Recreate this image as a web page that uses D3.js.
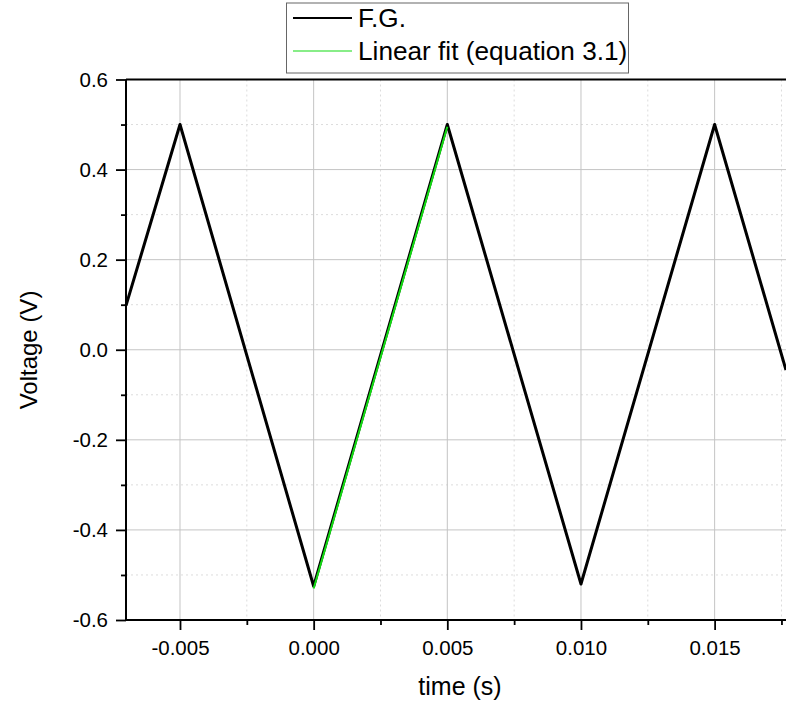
<!DOCTYPE html>
<html>
<head>
<meta charset="utf-8">
<script src="https://cdn.jsdelivr.net/npm/d3@7"></script>
<style>
  body { margin: 0; background: #fff; }
  svg { display: block; font-family: "Liberation Sans", Arial, sans-serif; }
</style>
</head>
<body>
<svg id="chart" width="786" height="703"></svg>
<script>
// waveform vertices (time in s, voltage in V)
const fgTime = [-0.00702, -0.005, 0.0, 0.005, 0.010, 0.015, 0.01767];
const fgVolt = [0.098, 0.50, -0.525, 0.50, -0.52, 0.50, -0.045];

// linear fit over the rising edge
const fitTime = [0.0, 0.005];
const fitVolt = [-0.53, 0.495];

const xTicks = [-0.005, 0.000, 0.005, 0.010, 0.015];
const xMinor = [-0.0025, 0.0025, 0.0075, 0.0125, 0.0175];
const yTicks = [-0.6, -0.4, -0.2, 0.0, 0.2, 0.4, 0.6];
const yMinor = [-0.5, -0.3, -0.1, 0.1, 0.3, 0.5];

const legendItems = [
  { label: 'F.G.', color: '#000' },
  { label: 'Linear fit (equation 3.1)', color: '#12dc12' }
];

const svg = d3.select('#chart');
const plotL = 126, plotR = 786, plotT = 79.5, plotB = 620;

const x = d3.scaleLinear().domain([-0.00702, 0.01767]).range([plotL, plotR]);
const y = d3.scaleLinear().domain([-0.6, 0.6]).range([plotB, plotT]);

// plain hyphen for negatives, like the original
const fmt = p => d => d3.format(p)(d).replace('\u2212', '-');

// grid lines
const grid = svg.append('g');
grid.selectAll('.vminor').data(xMinor).enter().append('line')
  .attr('x1', d => x(d)).attr('x2', d => x(d))
  .attr('y1', plotT).attr('y2', plotB)
  .attr('stroke', '#dcdcdc').attr('stroke-dasharray', '2,3');
grid.selectAll('.hminor').data(yMinor).enter().append('line')
  .attr('x1', plotL).attr('x2', plotR)
  .attr('y1', d => y(d)).attr('y2', d => y(d))
  .attr('stroke', '#dcdcdc').attr('stroke-dasharray', '2,3');
grid.selectAll('.vmajor').data(xTicks).enter().append('line')
  .attr('x1', d => x(d)).attr('x2', d => x(d))
  .attr('y1', plotT).attr('y2', plotB)
  .attr('stroke', '#c4c4c4');
grid.selectAll('.hmajor').data(yTicks.slice(1, -1)).enter().append('line')
  .attr('x1', plotL).attr('x2', plotR)
  .attr('y1', d => y(d)).attr('y2', d => y(d))
  .attr('stroke', '#c4c4c4');

// data lines
const line = d3.line().x(d => x(d[0])).y(d => y(d[1]));
const fgData = fgTime.map((t, i) => [t, fgVolt[i]]);
const fitData = fitTime.map((t, i) => [t, fitVolt[i]]);

svg.append('path').datum(fgData)
  .attr('d', line).attr('fill', 'none')
  .attr('stroke', '#000').attr('stroke-width', 3)
  .attr('stroke-linejoin', 'round');
svg.append('path').datum(fitData)
  .attr('d', line).attr('fill', 'none')
  .attr('stroke', legendItems[1].color).attr('stroke-width', 2);

// axes
svg.append('g').attr('transform', `translate(0,${plotB})`)
  .call(d3.axisBottom(x).tickValues(xTicks).tickFormat(fmt('.3f')).tickSize(10).tickPadding(10));
svg.append('g').attr('transform', `translate(0,${plotB})`)
  .call(d3.axisBottom(x).tickValues(xMinor).tickFormat('').tickSize(5));
svg.append('g').attr('transform', `translate(${plotL},0)`)
  .call(d3.axisLeft(y).tickValues(yTicks).tickFormat(fmt('.1f')).tickSize(10).tickPadding(8));
svg.append('g').attr('transform', `translate(${plotL},0)`)
  .call(d3.axisLeft(y).tickValues(yMinor).tickFormat('').tickSize(5));

svg.selectAll('.domain').remove();
svg.selectAll('.tick line').attr('stroke-width', 1.8);
svg.selectAll('.tick text').attr('font-size', 20.5).attr('fill', '#000')
  .attr('font-family', '"Liberation Sans", Arial, sans-serif');

// frame lines
svg.append('line').attr('x1', plotL).attr('x2', plotR).attr('y1', plotB).attr('y2', plotB)
  .attr('stroke', '#000').attr('stroke-width', 2);
svg.append('line').attr('x1', plotL).attr('x2', plotR).attr('y1', plotT).attr('y2', plotT)
  .attr('stroke', '#000').attr('stroke-width', 2);
svg.append('line').attr('x1', plotL).attr('x2', plotL).attr('y1', plotT).attr('y2', plotB)
  .attr('stroke', '#000').attr('stroke-width', 2);

// axis titles
svg.append('text').attr('x', 460).attr('y', 695)
  .attr('text-anchor', 'middle').attr('font-size', 25).text('time (s)');
svg.append('text').attr('transform', 'translate(37,350) rotate(-90)')
  .attr('text-anchor', 'middle').attr('font-size', 24).text('Voltage (V)');

// legend
const legend = svg.append('g');
legend.append('rect').attr('x', 286.5).attr('y', 3).attr('width', 342).attr('height', 70)
  .attr('fill', '#fff').attr('stroke', '#666').attr('stroke-width', 1);
legendItems.forEach((item, i) => {
  const ly = 18 + i * 33;
  legend.append('line').attr('x1', 293).attr('x2', 352).attr('y1', ly).attr('y2', ly)
    .attr('stroke', item.color).attr('stroke-width', i === 0 ? 1.8 : 1.2);
  legend.append('text').attr('x', 358).attr('y', ly + 9)
    .attr('font-size', 26.2).attr('fill', '#000').text(item.label);
});
</script>
</body>
</html>
